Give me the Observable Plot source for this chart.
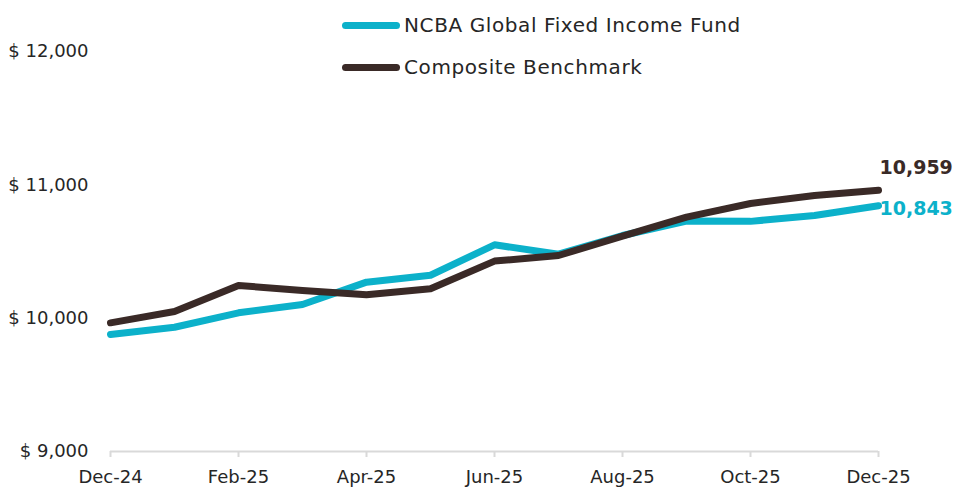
<!DOCTYPE html>
<html>
<head>
<meta charset="utf-8">
<script src="https://cdn.jsdelivr.net/npm/d3@7"></script>
<script src="https://cdn.jsdelivr.net/npm/@observablehq/plot@0.6"></script>
<style>
  html, body { margin: 0; padding: 0; background: #fff; }
  #wrap { position: relative; width: 958px; height: 487px; font-family: "DejaVu Sans", sans-serif; }
  #legend { position: absolute; left: 342px; top: 4px; font-size: 20px; letter-spacing: 0.6px; color: #262626; }
  .item { display: flex; align-items: center; height: 42px; }
  .sw { width: 58px; height: 7px; border-radius: 4px; margin-right: 4px; }
</style>
</head>
<body>
<div id="wrap"><div id="legend"></div></div>
<script>
const months = ["Dec-24","Jan-25","Feb-25","Mar-25","Apr-25","May-25","Jun-25","Jul-25","Aug-25","Sep-25","Oct-25","Nov-25","Dec-25"];
const fundValues = [9878, 9932, 10040, 10103, 10270, 10322, 10550, 10480, 10620, 10728, 10726, 10770, 10843];
const benchValues = [9965, 10050, 10245, 10208, 10175, 10220, 10428, 10470, 10615, 10758, 10860, 10920, 10959];
const seriesNames = ["NCBA Global Fixed Income Fund", "Composite Benchmark"];
const seriesColors = ["#0cb1ca", "#3a2a27"];
const yTicks = [9000, 10000, 11000, 12000];
const xTicks = ["Dec-24","Feb-25","Apr-25","Jun-25","Aug-25","Oct-25","Dec-25"];

const rows = [];
months.forEach((m, i) => {
  rows.push({month: m, value: fundValues[i], series: seriesNames[0]});
  rows.push({month: m, value: benchValues[i], series: seriesNames[1]});
});
const last = months.length - 1;
const benchEnd = [{month: months[last], value: benchValues[last], series: seriesNames[1]}];
const fundEnd = [{month: months[last], value: fundValues[last], series: seriesNames[0]}];

const fmt = d3.format(",");
const chart = Plot.plot({
  width: 958,
  height: 487,
  marginLeft: 110,
  marginRight: 80,
  marginTop: 51,
  marginBottom: 36,
  style: {fontFamily: "DejaVu Sans, sans-serif", fontSize: "18px", color: "#262626", background: "white"},
  x: {type: "point", domain: months, padding: 0, label: null},
  y: {domain: [9000, 12000], label: null},
  color: {domain: seriesNames, range: seriesColors},
  marks: [
    Plot.ruleY([9000], {stroke: "#d9d9d9", strokeWidth: 2}),
    Plot.axisX({ticks: xTicks, tickSize: 6, stroke: "#d9d9d9", strokeWidth: 2, tickPadding: 13, fontSize: 18, fill: "#262626"}),
    Plot.axisY({ticks: yTicks, tickSize: 0, tickPadding: 22, tickFormat: d => "$ " + fmt(d), fontSize: 18, fill: "#262626"}),
    Plot.line(rows, {x: "month", y: "value", z: "series", stroke: "series", strokeWidth: 7, strokeLinejoin: "round"}),
    Plot.text(benchEnd, {x: "month", y: "value", text: d => fmt(d.value), fill: "series", dy: -22, dx: 1, textAnchor: "start", fontSize: 19, fontWeight: "bold"}),
    Plot.text(fundEnd, {x: "month", y: "value", text: d => fmt(d.value), fill: "series", dy: 3, dx: 1, textAnchor: "start", fontSize: 19, fontWeight: "bold"})
  ]
});
document.getElementById("wrap").prepend(chart);
chart.style.position = "absolute";
chart.style.left = "0"; chart.style.top = "0";

const legend = document.getElementById("legend");
seriesNames.forEach((n, i) => {
  const it = document.createElement("div"); it.className = "item";
  const sw = document.createElement("div"); sw.className = "sw"; sw.style.background = seriesColors[i];
  const t = document.createElement("span"); t.textContent = n;
  it.append(sw, t); legend.append(it);
});
</script>
</body>
</html>
